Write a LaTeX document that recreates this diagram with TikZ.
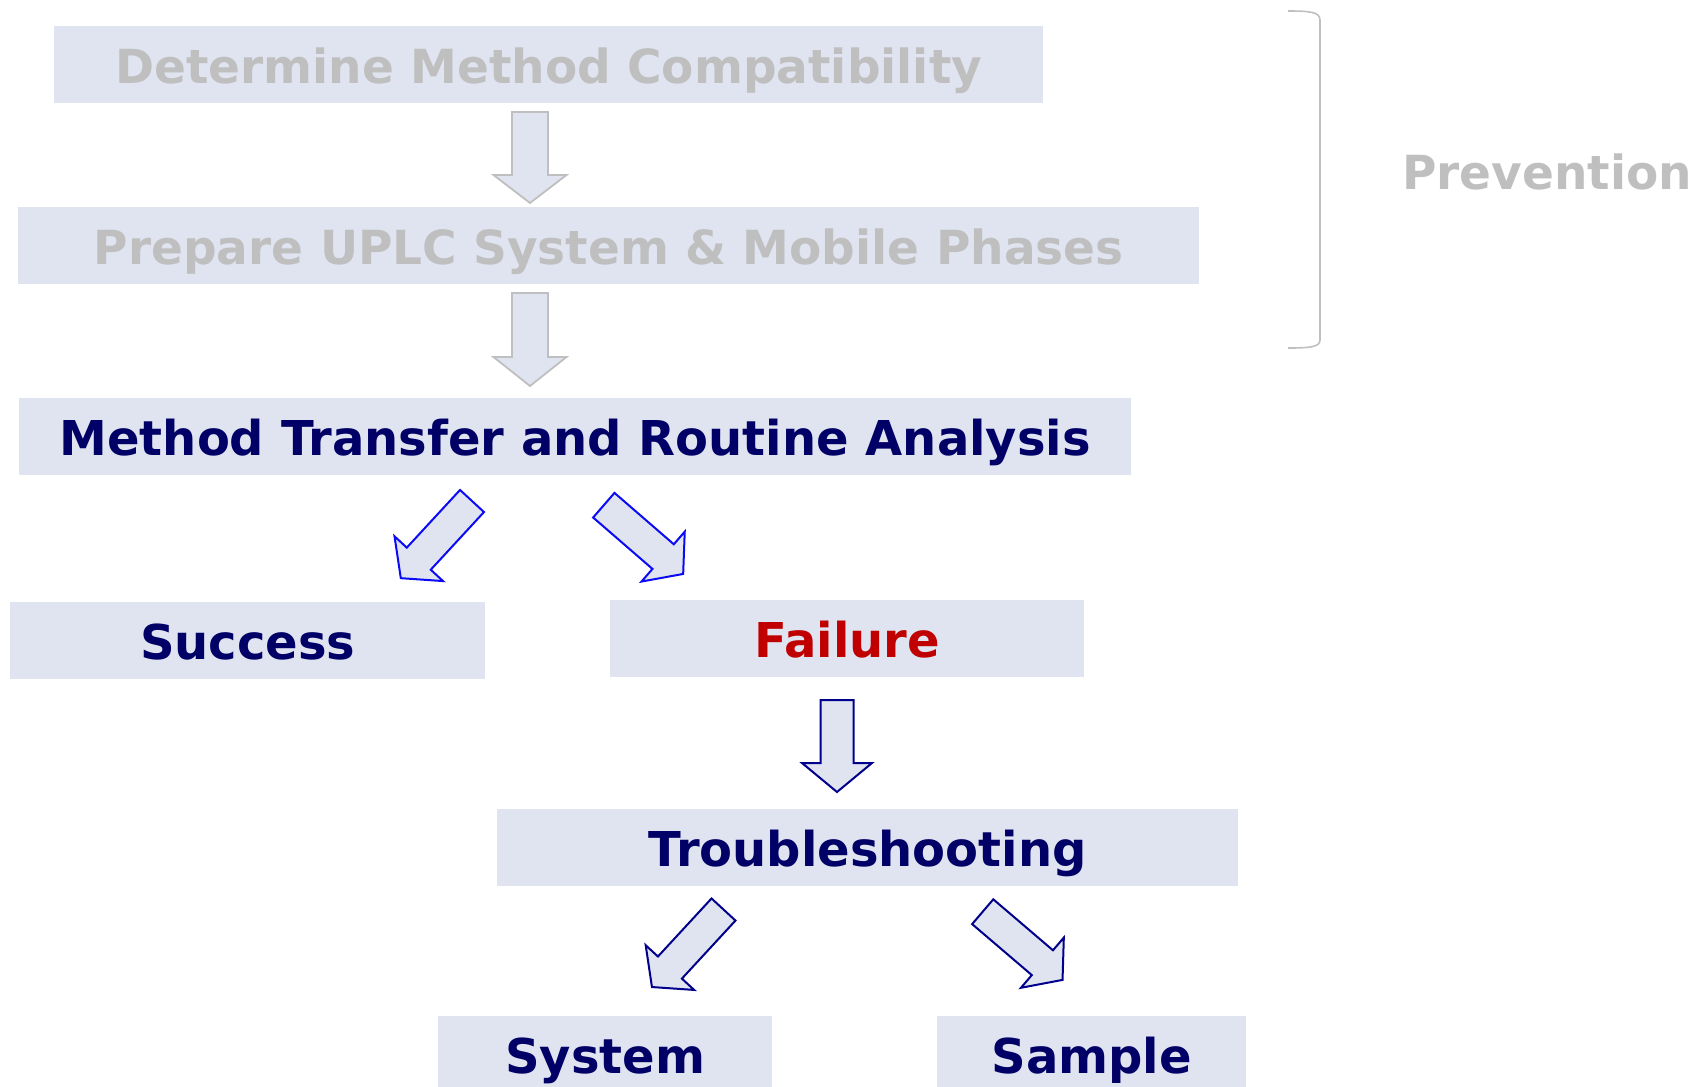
\documentclass[tikz,border=0pt]{standalone}
\usepackage{fontspec}
\setmainfont{DejaVu Sans}
\definecolor{boxfill}{RGB}{223,228,240}
\definecolor{navytext}{RGB}{0,0,102}
\definecolor{failred}{RGB}{192,0,0}
\definecolor{fadedgray}{RGB}{191,191,191}
\definecolor{brightblue}{RGB}{10,10,245}
\definecolor{deepblue}{RGB}{0,0,140}
\tikzset{
  stage/.style={fill=boxfill, draw=none, anchor=north west, inner sep=0pt,
    minimum height=77pt, text height=38pt, text depth=0pt,
    font=\bfseries\fontsize{48}{57}\selectfont},
  faded/.style={stage, text=fadedgray, font=\bfseries\fontsize{47}{56}\selectfont},
  active/.style={stage, text=navytext},
  grayarrow/.style={draw=fadedgray, fill=boxfill, line width=1.8pt, line join=miter},
  bluearrow/.style={draw=brightblue, fill=boxfill, line width=2pt, line join=miter},
  navyarrow/.style={draw=deepblue, fill=boxfill, line width=2pt, line join=miter},
  % block arrow: length, shaft half width, head half width, head length
  pics/blockarrow/.style n args={4}{code={
    \path[pic actions] (-#2,0) -- (#2,0) -- (#2,#1-#4) -- (#3,#1-#4) -- (0,#1)
      -- (-#3,#1-#4) -- (-#2,#1-#4) -- cycle;
  }}
}
\begin{document}
\begin{tikzpicture}[x=1pt,y=-1pt]
\useasboundingbox (0,0) rectangle (1695,1087);

% stage boxes
\node[faded, minimum width=989pt]  (compat)  at (54,26)   {Determine Method Compatibility};
\node[faded, minimum width=1181pt] (prepare) at (18,207)  {Prepare UPLC System \& Mobile Phases};
\node[active, minimum width=1112pt] (transfer) at (19,398) {Method Transfer and Routine Analysis};
\node[active, minimum width=475pt] (success) at (10,602)  {Success};
\node[stage, text=failred, minimum width=474pt] (failure) at (610,600) {Failure};
\node[active, minimum width=741pt] (trouble) at (497,809) {Troubleshooting};
\node[active, minimum width=334pt] (system)  at (438,1016) {System};
\node[active, minimum width=309pt] (sample)  at (937,1016) {Sample};

% block arrows between the stages
\pic[grayarrow] at (530,112) {blockarrow={91}{18}{36.5}{28}};
\pic[grayarrow] at (530,293) {blockarrow={93}{18}{36.5}{29}};
\pic[bluearrow, rotate=-42.7] at (472,501) {blockarrow={105}{16.3}{33}{26.5}};
\pic[bluearrow, rotate=49.1] at (603.8,505.2) {blockarrow={105}{16.3}{33}{26.5}};
\pic[navyarrow] at (837,700) {blockarrow={92}{16.5}{35}{29}};
\pic[navyarrow, rotate=-42.7] at (723.5,909.5) {blockarrow={105.5}{16.3}{33}{26.5}};
\pic[navyarrow, rotate=49.5] at (982.7,911.7) {blockarrow={105}{16.3}{33}{26.5}};

% bracket grouping the preventive stages
\coordinate (brtop) at (1288,11);
\coordinate (brbot) at (1288,348);
\draw[fadedgray, line width=1.6pt] (brtop) .. controls (1310,11) and (1320,12) .. (1320,20)
  -- (1320,340) .. controls (1320,347) and (1310,348) .. (brbot);
\node[anchor=base west, inner sep=0pt, text=fadedgray, font=\bfseries\fontsize{47}{56}\selectfont]
  (prevention) at (1402,189) {Prevention};
\end{tikzpicture}
\end{document}
